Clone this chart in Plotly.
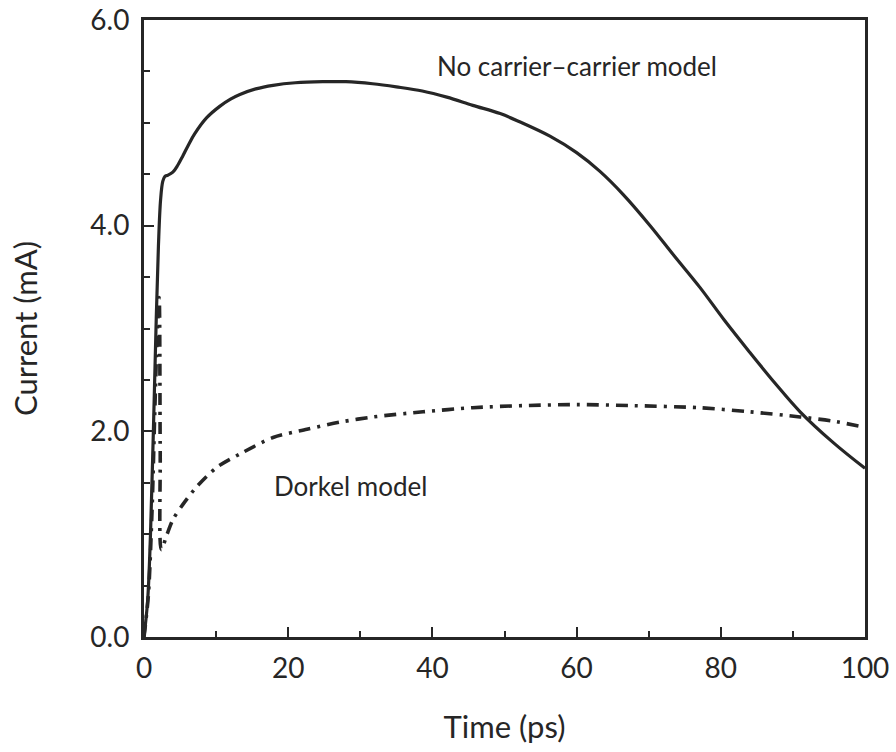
import plotly.graph_objects as go

# Time (ps) and current (mA)
t_nocc = [0, 0.5, 0.9, 1.3, 1.7, 2.0, 2.3, 2.6, 2.9, 3.3, 4.0, 4.7, 5.4, 6.2, 7.0, 8.7, 10.5, 12.0, 13.3, 15.5,
          17.9, 21.0, 24.8, 28.0, 31.7, 35.0, 38.6, 42.0, 45.6, 49.4, 52.1, 56.3, 60.0, 63.2, 66.5, 70.2,
          73.5, 77.1, 80.5, 84.0, 87.5, 91.0, 95.6, 100]
i_nocc = [0, 0.35, 1.0, 2.0, 3.1, 3.8, 4.25, 4.43, 4.48, 4.49, 4.52, 4.59, 4.68, 4.79, 4.89, 5.05, 5.16, 5.23, 5.275,
          5.33, 5.365, 5.39, 5.40, 5.40, 5.38, 5.35, 5.31, 5.25, 5.17, 5.09, 5.01, 4.87, 4.71, 4.53, 4.30, 4.00,
          3.71, 3.40, 3.08, 2.77, 2.47, 2.19, 1.89, 1.64]

t_dorkel = [0, 0.6, 1.1, 1.5, 1.8, 2.1, 2.25, 2.4, 3.2, 4.0, 5.4, 7.3, 10.1, 13.3, 17.9, 22.6, 27.2, 31.8,
            38.7, 45.6, 52.6, 60.0, 67.8, 77.0, 84.0, 91.0, 95.5, 100]
i_dorkel = [0, 0.4, 1.2, 2.2, 2.9, 3.3, 1.8, 0.85, 1.0, 1.14, 1.29, 1.46, 1.65, 1.78, 1.94, 2.02, 2.09, 2.14,
            2.19, 2.23, 2.25, 2.26, 2.25, 2.23, 2.19, 2.14, 2.10, 2.04]

x_ticks = [0, 20, 40, 60, 80, 100]
y_ticks = [0, 2, 4, 6]

ink = "#262626"
font_family = "Lato, 'Open Sans', sans-serif"

fig = go.Figure()
fig.add_trace(go.Scatter(x=t_nocc, y=i_nocc, mode="lines",
                         line=dict(color=ink, width=3.2, shape="spline", smoothing=1.0), showlegend=False))
fig.add_trace(go.Scatter(x=t_dorkel, y=i_dorkel, mode="lines",
                         line=dict(color=ink, width=3.6, dash="12px,7px,3px,7px", shape="spline", smoothing=0.8),
                         showlegend=False))

fig.add_annotation(x=60, y=5.55, text="No carrier\u2013carrier model", showarrow=False,
                   font=dict(size=26, color=ink, family=font_family))
fig.add_annotation(x=28.7, y=1.47, text="Dorkel model", showarrow=False,
                   font=dict(size=26, color=ink, family=font_family))

axis_common = dict(showgrid=False, zeroline=False, showline=True, linewidth=3, linecolor=ink,
                   mirror=True, ticks="inside", ticklen=10, tickwidth=2, tickcolor=ink, automargin=False,
                   tickfont=dict(size=28, color=ink, family=font_family))

fig.update_xaxes(range=[0, 100], tickvals=x_ticks, ticktext=[str(v) for v in x_ticks],
                 minor=dict(dtick=10, ticks="inside", ticklen=6, tickwidth=2, tickcolor=ink),
                 title=dict(text="Time (ps)", font=dict(size=31, color=ink, family=font_family), standoff=34),
                 ticklabelstandoff=4, **axis_common)
fig.update_yaxes(range=[0, 6], tickvals=y_ticks, ticktext=[f"{v:.1f}" for v in y_ticks],
                 minor=dict(dtick=0.5, ticks="inside", ticklen=6, tickwidth=2, tickcolor=ink),
                 title=dict(text="Current (mA)", font=dict(size=31, color=ink, family=font_family), standoff=44),
                 ticklabelstandoff=6, **axis_common)

fig.update_layout(width=896, height=752, margin=dict(l=144, r=31, t=20, b=115),
                  paper_bgcolor="white", plot_bgcolor="white")

fig.write_html("out.html")
